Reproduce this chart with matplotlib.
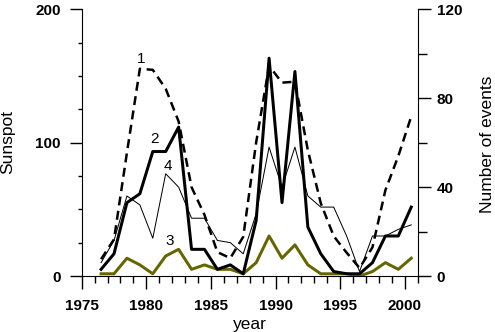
import numpy as np
import matplotlib
matplotlib.use("Agg")
import matplotlib.pyplot as plt
from matplotlib.ticker import MultipleLocator

plt.rcParams['font.family'] = ['Liberation Sans', 'DejaVu Sans']

# data (mid-year points)
years = [1976.5, 1977.5, 1978.5, 1979.5, 1980.5, 1981.5, 1982.5, 1983.5, 1984.5,
         1985.5, 1986.5, 1987.5, 1988.5, 1989.5, 1990.5, 1991.5, 1992.5, 1993.5,
         1994.5, 1995.5, 1996.5, 1997.5, 1998.5, 1999.5, 2000.5]

# curve 1: sunspot number (left axis)
sunspot = [12.6, 27.5, 92.5, 155.4, 154.6, 140.4, 115.9, 66.6, 45.9, 17.9, 13.4, 29.4,
           100.2, 157.6, 145.0, 145.7, 94.3, 54.6, 29.9, 17.5, 6.0, 21.5, 64.3, 90.0, 119.6]

# curves 2-4: number of events (right axis)
events2 = [3, 10, 33, 37, 56, 56, 67, 12, 12, 3, 5, 1, 25, 98, 33, 92, 22, 10,
           2, 1, 1, 6, 18, 18, 31]
events4 = [6, 16, 36, 32, 17, 46, 40, 26, 26, 16, 15, 10, 28, 58, 40, 58, 36, 31,
           31, 18, 2, 18, 18, 21, 23]
events3 = [1, 1, 8, 5, 1, 9, 12, 3, 5, 3, 3, 1, 6, 18, 8, 14, 5, 1,
           1, 1, 0, 2, 6, 3, 8]

curve_labels = ['1', '2', '3', '4']
label_pos = [(1979.63, 163), (1980.67, 103), (1981.78, 26.5), (1981.63, 82.5)]

px = 1 / 1.389  # points per pixel at 100 dpi

fig = plt.figure(figsize=(4.95, 3.32), dpi=100)
ax = fig.add_axes([81.7 / 495, 1 - 276 / 332, 336 / 495, 266.7 / 332])
ax2 = ax.twinx()

ax.plot(years, sunspot, color='black', lw=2.5 * px, linestyle=(0, (3.6, 2.2)))
ax2.plot(years, events4, color='black', lw=1.0 * px)
ax2.plot(years, events3, color='#666600', lw=3.0 * px)
ax2.plot(years, events2, color='black', lw=3.0 * px)

for lab, (xx, yy) in zip(curve_labels, label_pos):
    ax.text(xx, yy, lab, fontsize=11, ha='center', va='center')

ax.set_xlim(1975, 2001)
ax.set_ylim(0, 200)
ax2.set_ylim(0, 120)

for a in (ax, ax2):
    a.spines['top'].set_visible(False)
    a.patch.set_visible(False)
ax2.spines['left'].set_visible(False)
ax2.spines['bottom'].set_visible(False)
ax.spines['right'].set_visible(False)

ax.xaxis.set_major_locator(MultipleLocator(5))
ax.xaxis.set_minor_locator(MultipleLocator(1))
ax.yaxis.set_major_locator(MultipleLocator(100))
ax.yaxis.set_minor_locator(MultipleLocator(25))
ax2.yaxis.set_major_locator(MultipleLocator(40))
ax2.yaxis.set_minor_locator(MultipleLocator(20))

ax.tick_params(axis='x', which='major', direction='out', length=13 * px, width=1, pad=10 * px)
ax.tick_params(axis='x', which='minor', direction='out', length=7 * px, width=1)
ax.tick_params(axis='y', which='major', direction='out', length=12 * px, width=1, pad=9 * px)
ax.tick_params(axis='y', which='minor', direction='out', length=4.5 * px, width=1)
ax2.tick_params(axis='y', which='major', direction='out', length=13 * px, width=1, pad=6 * px)
ax2.tick_params(axis='y', which='minor', direction='out', length=9 * px, width=1)

for a in (ax, ax2):
    for t in a.get_xticklabels() + a.get_yticklabels():
        t.set_fontweight('bold')
        t.set_fontsize(11)

ax.set_ylabel('Sunspot', fontsize=12.5)
ax.yaxis.set_label_coords(-0.1985, 0.504)
ax2.set_ylabel('Number of events', fontsize=12.5)
ax2.yaxis.set_label_coords(1.185, 0.494)
ax.set_xlabel('year', fontsize=12.5)
ax.xaxis.set_label_coords(0.5, -0.154)

plt.savefig('out.png', dpi=100)
